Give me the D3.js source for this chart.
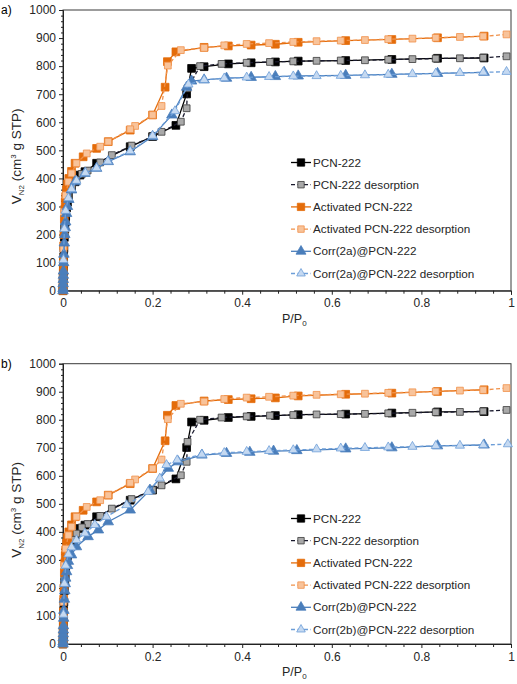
<!DOCTYPE html>
<html><head><meta charset="utf-8">
<script src="https://cdn.jsdelivr.net/npm/d3@7/dist/d3.min.js"></script>
<style>body{margin:0;background:#fff}svg{display:block;font-family:Arial,"Liberation Sans",sans-serif}</style>
</head><body><svg id="c" width="517" height="684"></svg>
<script>
// ---------- data ----------
const xTicks = [0, 0.2, 0.4, 0.6, 0.8, 1];
const xTickLabels = ["0", "0.2", "0.4", "0.6", "0.8", "1"];
const yTicks = [0, 100, 200, 300, 400, 500, 600, 700, 800, 900, 1000];

const pcnAdsP = [0, 0.0002, 0.0004, 0.0006, 0.0008, 0.001, 0.0015, 0.002, 0.003, 0.004, 0.005, 0.006, 0.008, 0.01, 0.012, 0.019, 0.027, 0.038, 0.049, 0.075, 0.15, 0.2, 0.252, 0.276, 0.287, 0.315, 0.369, 0.42, 0.474, 0.525, 0.631, 0.734, 0.836, 0.94];
const pcnAdsV = [0, 10, 30, 50, 70, 90, 120, 150, 190, 220, 245, 265, 295, 315, 335, 366, 388, 412, 424, 454, 513, 549, 589, 701, 792, 798, 808, 812, 815, 818, 820, 824, 828, 829];
const pcnDesP = [0.99, 0.938, 0.886, 0.832, 0.78, 0.726, 0.674, 0.62, 0.566, 0.514, 0.462, 0.41, 0.354, 0.306, 0.278, 0.276, 0.263, 0.22, 0.2, 0.153, 0.109, 0.083, 0.055, 0.042, 0.03, 0.02, 0.012, 0.006, 0.003, 0.001];
const pcnDesV = [835, 830, 828, 827, 825, 823, 821, 820, 819, 817, 815, 812, 808, 800, 721, 650, 602, 566, 549, 517, 483, 457, 428, 416, 394, 372, 345, 300, 230, 100];

const actAdsP = [0, 0.0002, 0.0004, 0.0006, 0.0008, 0.001, 0.0015, 0.002, 0.003, 0.004, 0.005, 0.006, 0.008, 0.01, 0.013, 0.019, 0.027, 0.045, 0.075, 0.101, 0.15, 0.2, 0.228, 0.233, 0.252, 0.315, 0.369, 0.42, 0.474, 0.525, 0.631, 0.734, 0.836, 0.94];
const actAdsV = [0, 15, 40, 65, 90, 115, 160, 200, 255, 290, 315, 335, 360, 380, 400, 425, 454, 477, 507, 531, 572, 626, 725, 816, 851, 867, 872, 875, 878, 885, 891, 895, 901, 907];
const actDesP = [0.99, 0.938, 0.886, 0.832, 0.78, 0.726, 0.674, 0.62, 0.566, 0.514, 0.46, 0.41, 0.36, 0.315, 0.263, 0.234, 0.22, 0.2, 0.161, 0.15, 0.101, 0.083, 0.053, 0.03, 0.019, 0.012, 0.006, 0.003, 0.001];
const actDesV = [913, 906, 904, 901, 898, 896, 893, 891, 889, 886, 882, 879, 874, 865, 857, 802, 658, 626, 587, 575, 531, 513, 489, 454, 418, 388, 340, 280, 150];

const corrAAdsP = [0, 0.0002, 0.0004, 0.0006, 0.0008, 0.001, 0.0015, 0.002, 0.003, 0.004, 0.005, 0.006, 0.008, 0.01, 0.013, 0.019, 0.027, 0.049, 0.075, 0.101, 0.15, 0.2, 0.243, 0.276, 0.287, 0.315, 0.365, 0.42, 0.474, 0.525, 0.631, 0.734, 0.836, 0.94];
const corrAAdsV = [0, 8, 25, 40, 55, 70, 100, 130, 170, 200, 225, 245, 275, 300, 325, 359, 388, 418, 436, 460, 495, 549, 626, 725, 747, 751, 757, 760, 763, 765, 767, 771, 774, 778];
const corrADesP = [0.99, 0.938, 0.886, 0.832, 0.78, 0.726, 0.674, 0.62, 0.566, 0.514, 0.46, 0.41, 0.36, 0.315, 0.28, 0.25, 0.2, 0.15, 0.1, 0.075, 0.05, 0.03, 0.019, 0.012, 0.006, 0.003, 0.001];
const corrADesV = [780, 778, 776, 774, 772, 770, 768, 766, 765, 764, 762, 760, 757, 751, 735, 640, 552, 497, 461, 437, 420, 392, 362, 330, 285, 220, 110];

const corrBAdsP = [0, 0.0002, 0.0004, 0.0006, 0.0008, 0.001, 0.0015, 0.002, 0.003, 0.004, 0.005, 0.006, 0.008, 0.01, 0.012, 0.019, 0.03, 0.056, 0.079, 0.101, 0.15, 0.194, 0.235, 0.257, 0.31, 0.365, 0.417, 0.47, 0.522, 0.631, 0.734, 0.836, 0.94];
const corrBAdsV = [0, 8, 22, 36, 50, 65, 92, 120, 160, 190, 215, 235, 258, 280, 295, 318, 347, 383, 407, 436, 478, 549, 627, 650, 674, 680, 684, 688, 690, 696, 700, 707, 710];
const corrBDesP = [0.993, 0.938, 0.886, 0.832, 0.78, 0.726, 0.674, 0.62, 0.566, 0.514, 0.46, 0.41, 0.36, 0.31, 0.255, 0.231, 0.216, 0.19, 0.142, 0.097, 0.071, 0.049, 0.03, 0.019, 0.012, 0.006, 0.003, 0.001];
const corrBDesV = [713, 710, 708, 707, 704, 702, 700, 698, 695, 692, 689, 686, 682, 676, 656, 639, 591, 543, 496, 454, 425, 395, 371, 345, 320, 280, 215, 105];

const legendA = ["PCN-222", "PCN-222 desorption", "Activated PCN-222", "Activated PCN-222 desorption", "Corr(2a)@PCN-222", "Corr(2a)@PCN-222 desorption"];
const legendB = ["PCN-222", "PCN-222 desorption", "Activated PCN-222", "Activated PCN-222 desorption", "Corr(2b)@PCN-222", "Corr(2b)@PCN-222 desorption"];

// ---------- styles ----------
const styles = [
  {shape: "square", fill: "#000000", stroke: "#000000", line: "#000000", dash: null, size: 60},
  {shape: "square", fill: "#a9a9a9", stroke: "#3a3a3a", line: "#1a1a2e", dash: "4,2.5", size: 46},
  {shape: "square", fill: "#e46c0a", stroke: "#e46c0a", line: "#e46c0a", dash: null, size: 60},
  {shape: "square", fill: "#f8c39a", stroke: "#f0914a", line: "#f0914a", dash: "4,2.5", size: 46},
  {shape: "triangle", fill: "#4a7ebb", stroke: "#4a7ebb", line: "#4a7ebb", dash: null, size: 48},
  {shape: "triangle", fill: "#c5d9f1", stroke: "#6d9ed8", line: "#6d9ed8", dash: "4,2.5", size: 36}
];

const svg = d3.select("#c");
const textColor = "#262626";

function zip(P, V) { return P.map((p, i) => ({p: p, v: V[i]})); }

function drawPanel(cfg) {
  const x = d3.scaleLinear().domain([0, 1]).range([63, 511]);
  const y = d3.scaleLinear().domain([0, 1000]).range([cfg.bottom, cfg.top]);
  const g = svg.append("g");

  // frame
  g.append("rect").attr("x", x(0)).attr("y", y(1000)).attr("width", x(1) - x(0)).attr("height", y(0) - y(1000))
    .attr("fill", "none").attr("stroke", "#3a3a3a").attr("stroke-width", 1);

  // y axis
  const ya = g.append("g").attr("transform", `translate(${x(0)},0)`)
    .call(d3.axisLeft(y).tickValues(yTicks).tickSize(4).tickFormat(d3.format("d")));
  ya.select(".domain").attr("stroke", "#222");
  ya.selectAll(".tick line").attr("stroke", "#222");
  ya.selectAll("text").attr("font-size", 12).attr("fill", textColor).attr("x", -7);
  const yMinor = d3.range(0, 1001, 20).filter(v => v % 100 !== 0);
  g.append("g").attr("transform", `translate(${x(0)},0)`)
    .call(d3.axisLeft(y).tickValues(yMinor).tickSize(2).tickFormat(""))
    .call(s => s.select(".domain").remove())
    .selectAll("line").attr("stroke", "#222");

  // x axis
  const xa = g.append("g").attr("transform", `translate(0,${y(0)})`)
    .call(d3.axisBottom(x).tickValues(xTicks).tickSize(4).tickFormat((d, i) => xTickLabels[i]));
  xa.select(".domain").attr("stroke", "#222");
  xa.selectAll(".tick line").attr("stroke", "#222");
  xa.selectAll("text").attr("font-size", 12).attr("fill", textColor).attr("y", 8);
  const xMinor = d3.range(0, 1.0001, 0.04).filter((v, i) => i % 5 !== 0);
  g.append("g").attr("transform", `translate(0,${y(0)})`)
    .call(d3.axisBottom(x).tickValues(xMinor).tickSize(3).tickFormat(""))
    .call(s => s.select(".domain").remove())
    .selectAll("line").attr("stroke", "#222");

  // series
  const line = d3.line().x(d => x(d.p)).y(d => y(d.v));
  cfg.series.forEach((s, i) => {
    const st = styles[i];
    const data = zip(s[0], s[1]);
    g.append("path").datum(data).attr("d", line).attr("fill", "none")
      .attr("stroke", st.line).attr("stroke-width", 1.3)
      .attr("stroke-dasharray", st.dash);
    const sym = d3.symbol().type(st.shape === "square" ? d3.symbolSquare : d3.symbolTriangle).size(st.size);
    g.append("g").selectAll("path").data(data).join("path")
      .attr("d", sym).attr("transform", d => `translate(${x(d.p)},${y(d.v)})`)
      .attr("fill", st.fill).attr("stroke", st.stroke).attr("stroke-width", 0.8);
  });

  // legend
  const lg = g.append("g");
  cfg.legend.forEach((name, i) => {
    const st = styles[i];
    const ly = cfg.legendTop + i * 22.2;
    lg.append("line").attr("x1", 291).attr("x2", 311).attr("y1", ly).attr("y2", ly)
      .attr("stroke", st.line).attr("stroke-width", 1.3).attr("stroke-dasharray", st.dash);
    const sym = d3.symbol().type(st.shape === "square" ? d3.symbolSquare : d3.symbolTriangle).size(st.size * 0.9);
    lg.append("path").attr("d", sym).attr("transform", `translate(301,${ly})`)
      .attr("fill", st.fill).attr("stroke", st.stroke).attr("stroke-width", 0.8);
    lg.append("text").attr("x", 313).attr("y", ly + 4).attr("font-size", 11.7).attr("fill", textColor).text(name);
  });

  // panel label
  svg.append("text").attr("x", 1).attr("y", cfg.top + 4).attr("font-size", 12).attr("fill", "#000").text(cfg.label);

  // y title
  const yt = svg.append("text").attr("transform", `translate(21,${(cfg.top + cfg.bottom) / 2 + 6}) rotate(-90)`)
    .attr("text-anchor", "middle").attr("font-size", 13.5).attr("fill", textColor);
  yt.append("tspan").text("V");
  yt.append("tspan").attr("font-size", 8).attr("dy", 3).text("N2");
  yt.append("tspan").attr("dy", -3).text(" (cm");
  yt.append("tspan").attr("font-size", 8).attr("dy", -5).text("3");
  yt.append("tspan").attr("dy", 5).text(" g STP)");

  // x title
  const xt = svg.append("text").attr("x", 282).attr("y", cfg.bottom + 32).attr("font-size", 12.5).attr("fill", textColor);
  xt.append("tspan").text("P/P");
  xt.append("tspan").attr("font-size", 8).attr("dy", 3).text("0");
}

drawPanel({label: "a)", top: 10, bottom: 290.7, legendTop: 162.5, legend: legendA,
  series: [[pcnAdsP, pcnAdsV], [pcnDesP, pcnDesV], [actAdsP, actAdsV], [actDesP, actDesV], [corrAAdsP, corrAAdsV], [corrADesP, corrADesV]]});
drawPanel({label: "b)", top: 363.7, bottom: 644, legendTop: 518.5, legend: legendB,
  series: [[pcnAdsP, pcnAdsV], [pcnDesP, pcnDesV], [actAdsP, actAdsV], [actDesP, actDesV], [corrBAdsP, corrBAdsV], [corrBDesP, corrBDesV]]});
</script></body></html>
